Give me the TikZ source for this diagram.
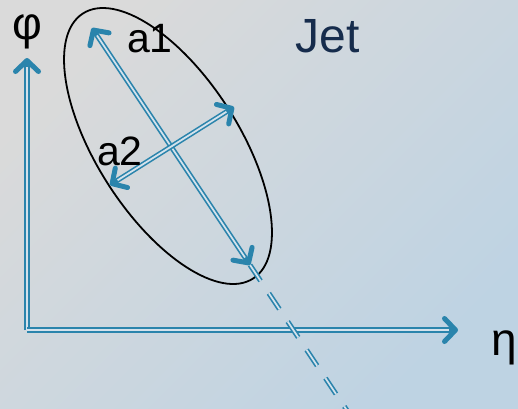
\documentclass[tikz,border=0pt]{standalone}
\usepackage{fontspec}
\setmainfont{Liberation Sans}
\usetikzlibrary{
    arrows.meta,      % For the open barb tips
    shapes.geometric, % For the jet ellipse
    calc              % For the dashed continuation
}
\definecolor{ArrowBlue}{RGB}{42,132,172}
\definecolor{GapBlue}{RGB}{212,226,236}
\definecolor{JetNavy}{RGB}{22,44,76}
\definecolor{BgGray}{RGB}{218,218,218}
\definecolor{BgBlue}{RGB}{190,211,227}
\tikzset{
    % open barb used on every blue arrow
    barb/.tip={Straight Barb[length=11pt, width=23pt, line width'=5pt, round]},
    % double blue line for the axes (thick blue line, light core on top)
    axis_line/.style={
        draw=ArrowBlue, line width=6.2pt, -barb,
        postaction={draw=GapBlue, line width=2pt, -, shorten >=9pt}
    },
    % double blue line for the jet axes a1, a2
    jet_axis/.style={
        draw=ArrowBlue, line width=5pt, barb-barb,
        postaction={draw=GapBlue, line width=1.8pt, -, shorten >=9pt, shorten <=9pt}
    },
    % dashed continuation of the main axis
    jet_extension/.style={
        draw=ArrowBlue, line width=5pt, dash pattern=on 19pt off 15pt,
        postaction={draw=GapBlue, line width=1.8pt, dash pattern=on 19pt off 15pt}
    },
    % the jet itself
    jet_shape/.style={
        ellipse, draw=black, line width=1.8pt, inner sep=0pt,
        minimum width=315pt, minimum height=142pt, rotate=-57.3
    },
    % text labels
    axis_label/.style={font=\fontsize{46}{46}\selectfont, text=black, inner sep=0pt},
    size_label/.style={font=\fontsize{41}{41}\selectfont, text=black, inner sep=0pt, anchor=base},
    jet_label/.style={font=\fontsize{48}{48}\selectfont, text=JetNavy, inner sep=0pt, anchor=base}
}

\begin{document}
\begin{tikzpicture}[x=1pt, y=-1pt]

% --- BACKGROUND ---
\useasboundingbox (0,0) rectangle (518,408);
\clip (0,0) rectangle (518,408);
\shade[top color=BgGray, bottom color=BgBlue, shading angle=45] (0,0) rectangle (518,408);

% --- AXES ---
\coordinate (origin) at (27,330);
\coordinate (phi_tip) at (27,58);
\coordinate (eta_tip) at (458,330);
\node[axis_label] (phi_label) at (27,32) {φ};
\node[axis_label] (eta_label) at (504,348) {η};

\draw[axis_line] (origin) -- (phi_tip);
\draw[axis_line] (origin) -- (eta_tip);

% --- JET ---
\node[jet_shape] (jet_ellipse) at (168,146) {};

\coordinate (a1_top) at (92,28);
\coordinate (a1_bot) at (250,265);
\coordinate (a2_low) at (110,185);
\coordinate (a2_up) at (234,107);
\coordinate (jet_far) at ($(a1_top)!1.7!(a1_bot)$);

\draw[jet_extension] (a1_bot) -- (jet_far);
\draw[jet_axis] (a1_top) -- (a1_bot);
\draw[jet_axis] (a2_low) -- (a2_up);

\node[size_label] (a1_label) at (150,52) {a1};
\node[size_label] (a2_label) at (120,165) {a2};
\node[jet_label] (jet_label) at (328,52) {Jet};

\end{tikzpicture}
\end{document}
